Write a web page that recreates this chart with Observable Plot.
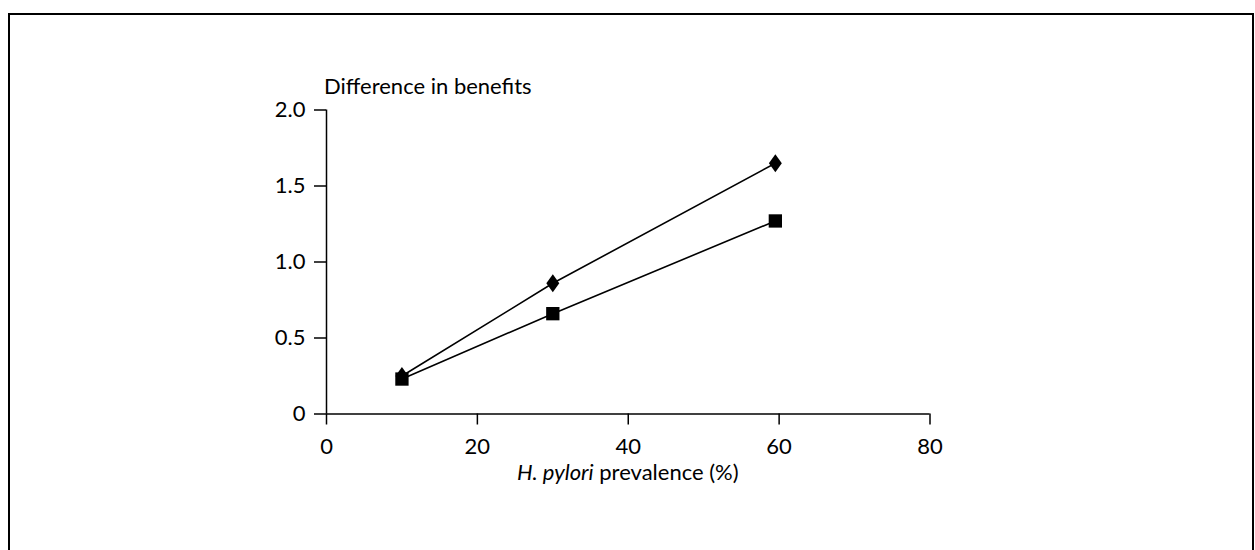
<!DOCTYPE html>
<html>
<head>
<meta charset="utf-8">
<script src="https://cdn.jsdelivr.net/npm/d3@7"></script>
<script src="https://cdn.jsdelivr.net/npm/@observablehq/plot@0.6"></script>
<style>
  html, body { margin: 0; padding: 0; background: #fff; }
  body { position: relative; width: 1255px; height: 550px; overflow: hidden; font-family: Lato, "Open Sans", sans-serif; }
  #chart { position: absolute; left: 0; top: 0; }
  #frame { position: absolute; left: 8px; top: 13px; width: 1246px; height: 600px; border: 2px solid #000; box-sizing: border-box; pointer-events: none; }
</style>
</head>
<body>
<div id="chart"></div>
<div id="frame"></div>
<script>
// H. pylori prevalence (%) at which the benefit difference was evaluated
const prevalence = [10, 30, 59.5];
// Two scenarios: diamond markers and square markers
const diamondSeries = [0.25, 0.86, 1.65];
const squareSeries = [0.23, 0.66, 1.27];
// Axis ticks and their labels
const xTicks = [0, 20, 40, 60, 80];
const yTicks = [0, 0.5, 1, 1.5, 2];
const yTickLabels = ["0", "0.5", "1.0", "1.5", "2.0"];

const diamondData = prevalence.map((x, i) => ({x, y: diamondSeries[i]}));
const squareData = prevalence.map((x, i) => ({x, y: squareSeries[i]}));

// Custom marker shapes: a tall diamond and a filled square
const diamondSymbol = {
  draw(ctx, size) {
    const r = Math.sqrt(size / Math.PI);
    const w = r * 0.72;
    ctx.moveTo(0, -r); ctx.lineTo(w, 0); ctx.lineTo(0, r); ctx.lineTo(-w, 0); ctx.closePath();
  }
};
const squareSymbol = {
  draw(ctx, size) {
    const r = Math.sqrt(size / Math.PI);
    const h = r * 0.74;
    ctx.rect(-h, -h, 2 * h, 2 * h);
  }
};

const fontSize = 22;

const chart = Plot.plot({
  width: 1255,
  height: 550,
  marginLeft: 326,
  marginRight: 1255 - 929.5,
  marginTop: 109.5,
  marginBottom: 550 - 413.5,
  style: {fontFamily: "Lato, 'Open Sans', sans-serif", fontSize: fontSize + "px", color: "#000", background: "transparent"},
  x: {domain: [0, 80]},
  y: {domain: [0, 2]},
  marks: [
    Plot.axisX({ticks: xTicks, tickSize: 11, tickPadding: 13, strokeWidth: 1.5, label: null, fontSize}),
    Plot.axisY({ticks: yTicks, tickFormat: (d, i) => yTickLabels[i], tickSize: 12, tickPadding: 9, strokeWidth: 1.5, label: null, fontSize}),
    Plot.ruleY([0], {stroke: "#000", strokeWidth: 1.5}),
    Plot.ruleX([0], {stroke: "#000", strokeWidth: 1.5}),
    Plot.line(diamondData, {x: "x", y: "y", stroke: "#000", strokeWidth: 1.6}),
    Plot.line(squareData, {x: "x", y: "y", stroke: "#000", strokeWidth: 1.6}),
    Plot.dot(diamondData, {x: "x", y: "y", symbol: diamondSymbol, r: 9, fill: "#000", stroke: "none"}),
    Plot.dot(squareData, {x: "x", y: "y", symbol: squareSymbol, r: 9, fill: "#000", stroke: "none"})
  ]
});

document.getElementById("chart").appendChild(chart);

// Axis titles, placed from the chart's own scales
const sx = chart.scale("x");
const sy = chart.scale("y");
const svg = d3.select(chart);

svg.append("text")
  .attr("x", sx.apply(0) - 2)
  .attr("y", sy.apply(2) - 16)
  .attr("text-anchor", "start")
  .attr("font-size", fontSize)
  .attr("fill", "#000")
  .text("Difference in benefits");

const xTitle = svg.append("text")
  .attr("x", sx.apply(40))
  .attr("y", sy.apply(0) + 66)
  .attr("text-anchor", "middle")
  .attr("font-size", fontSize)
  .attr("fill", "#000");
xTitle.append("tspan").attr("font-style", "italic").text("H. pylori");
xTitle.append("tspan").text(" prevalence (%)");
</script>
</body>
</html>
